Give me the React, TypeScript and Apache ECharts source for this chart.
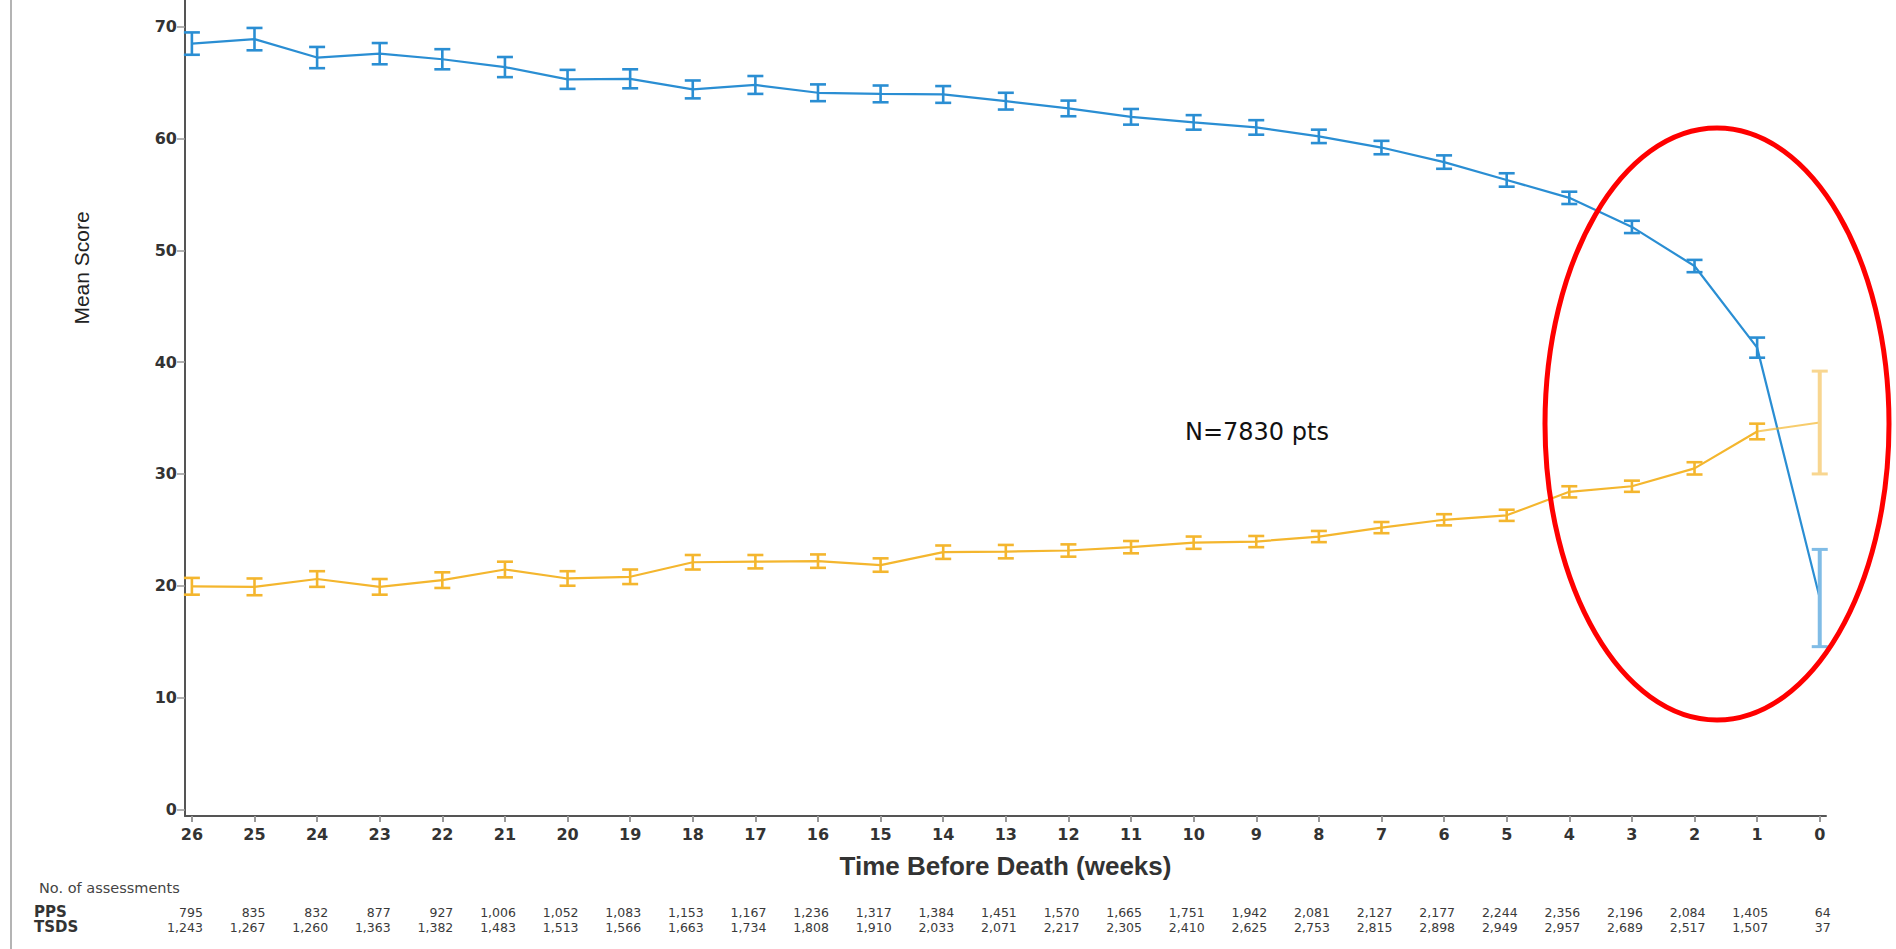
import React, { useEffect, useRef } from "react";
import * as echarts from "echarts";

// ---- data ----
const weeks = [26, 25, 24, 23, 22, 21, 20, 19, 18, 17, 16, 15, 14, 13, 12, 11, 10, 9, 8, 7, 6, 5, 4, 3, 2, 1, 0];

const ppsMean = [68.5, 68.9, 67.25, 67.6, 67.1, 66.4, 65.3, 65.35, 64.4, 64.8, 64.1, 64.0, 63.95, 63.35, 62.7, 61.95, 61.45, 61.0, 60.2, 59.2, 57.9, 56.3, 54.7, 52.1, 48.6, 41.3, 18.9];
const ppsErr = [1.0, 1.0, 0.95, 0.95, 0.9, 0.9, 0.85, 0.85, 0.8, 0.8, 0.75, 0.75, 0.75, 0.75, 0.7, 0.7, 0.65, 0.65, 0.6, 0.6, 0.6, 0.6, 0.55, 0.55, 0.55, 0.9, 4.35];

const tsdsMean = [19.95, 19.9, 20.6, 19.9, 20.5, 21.45, 20.65, 20.8, 22.1, 22.15, 22.2, 21.85, 23.0, 23.05, 23.15, 23.45, 23.85, 23.95, 24.4, 25.2, 25.9, 26.3, 28.4, 28.9, 30.5, 33.8, 34.6];
const tsdsErr = [0.75, 0.75, 0.7, 0.7, 0.7, 0.7, 0.65, 0.65, 0.65, 0.6, 0.6, 0.6, 0.6, 0.6, 0.55, 0.55, 0.55, 0.5, 0.5, 0.5, 0.5, 0.5, 0.5, 0.5, 0.55, 0.7, 4.6];

const ppsCounts = [795, 835, 832, 877, 927, 1006, 1052, 1083, 1153, 1167, 1236, 1317, 1384, 1451, 1570, 1665, 1751, 1942, 2081, 2127, 2177, 2244, 2356, 2196, 2084, 1405, 64];
const tsdsCounts = [1243, 1267, 1260, 1363, 1382, 1483, 1513, 1566, 1663, 1734, 1808, 1910, 2033, 2071, 2217, 2305, 2410, 2625, 2753, 2815, 2898, 2949, 2957, 2689, 2517, 1507, 37];

const yTicks = [0, 10, 20, 30, 40, 50, 60, 70];

const BLUE = "#2a8ed3";
const BLUE_LIGHT = "#80bce6";
const YELLOW = "#f4b62e";
const YELLOW_LIGHT = "#f8d690";

export default function App() {
  const ref = useRef<HTMLDivElement>(null);

  useEffect(() => {
    if (!ref.current) return;
    const chart = echarts.init(ref.current, null, { renderer: "svg" });

    const xMin = -0.1;
    const xMax = 26.11;
    const lastIdx = weeks.length - 1;

    const errData = (means: number[], errs: number[]) =>
      weeks.map((w, i) => [w, means[i] - errs[i], means[i] + errs[i], i === lastIdx ? 1 : 0]);

    const makeErrSeries = (name: string, means: number[], errs: number[], color: string, light: string) => ({
      name,
      type: "custom",
      xAxisIndex: 0,
      yAxisIndex: 0,
      z: 3,
      data: errData(means, errs),
      renderItem: (params: any, api: any) => {
        const x = api.value(0);
        const lo = api.coord([x, api.value(1)]);
        const hi = api.coord([x, api.value(2)]);
        const last = api.value(3) === 1;
        const half = 8;
        const st = { stroke: last ? light : color, lineWidth: last ? 4 : 2.6, fill: "none" };
        const cap = { ...st, lineWidth: last ? 3 : 2.6 };
        return {
          type: "group",
          children: [
            { type: "line", shape: { x1: lo[0], y1: lo[1], x2: hi[0], y2: hi[1] }, style: st },
            { type: "line", shape: { x1: hi[0] - half, y1: hi[1], x2: hi[0] + half, y2: hi[1] }, style: cap },
            { type: "line", shape: { x1: lo[0] - half, y1: lo[1], x2: lo[0] + half, y2: lo[1] }, style: cap },
          ],
        };
      },
    });

    const staticGraphics: any[] = [
      { type: "rect", left: 10, top: 0, shape: { width: 2, height: 949 }, style: { fill: "#b4b4b4" } },
      {
        type: "text",
        x: 81,
        y: 268,
        rotation: Math.PI / 2,
        style: {
          text: "Mean Score",
          fontFamily: "Liberation Sans Narrow, Liberation Sans",
          fontSize: 21,
          fill: "#222",
          align: "center",
          verticalAlign: "middle",
        },
      },
      {
        type: "text",
        x: 1185,
        y: 432,
        style: {
          text: "N=7830 pts",
          fontFamily: "DejaVu Sans",
          fontSize: 24,
          fill: "#111",
          align: "left",
          verticalAlign: "middle",
        },
      },
      {
        type: "ellipse",
        shape: { cx: 1717, cy: 424, rx: 172, ry: 296 },
        style: { stroke: "#ff0000", lineWidth: 5, fill: "none" },
        z: 10,
      },
      {
        type: "text",
        x: 39,
        y: 888,
        style: { text: "No. of assessments", fontFamily: "DejaVu Sans", fontSize: 14.5, fill: "#444", verticalAlign: "middle" },
      },
      {
        type: "text",
        x: 34,
        y: 912,
        style: { text: "PPS", fontFamily: "DejaVu Sans", fontWeight: "bold", fontSize: 15, fill: "#333", verticalAlign: "middle" },
      },
      {
        type: "text",
        x: 34,
        y: 927,
        style: { text: "TSDS", fontFamily: "DejaVu Sans", fontWeight: "bold", fontSize: 15, fill: "#333", verticalAlign: "middle" },
      },
    ];

    chart.setOption({
      animation: false,
      backgroundColor: "#ffffff",
      grid: { left: 185, right: 70, top: 0, bottom: 133, containLabel: false },
      xAxis: {
        type: "value",
        inverse: true,
        min: xMin,
        max: xMax,
        name: "Time Before Death (weeks)",
        nameLocation: "middle",
        nameGap: 37,
        nameTextStyle: { fontFamily: "Liberation Sans", fontWeight: "bold", fontSize: 26, color: "#333" },
        axisLine: { onZero: false, lineStyle: { color: "#555", width: 2 } },
        axisTick: { customValues: weeks, length: 6, lineStyle: { color: "#999", width: 2 } },
        axisLabel: {
          customValues: weeks,
          margin: 10,
          fontFamily: "DejaVu Sans",
          fontWeight: "bold",
          fontSize: 16,
          color: "#333",
        },
        splitLine: { show: false },
      },
      yAxis: {
        type: "value",
        min: -0.6,
        max: 72.4,
        axisLine: { show: true, onZero: false, lineStyle: { color: "#555", width: 2 } },
        axisTick: { show: true, customValues: yTicks, length: 8, lineStyle: { color: "#999", width: 1.5 } },
        axisLabel: {
          customValues: yTicks,
          margin: 8,
          fontFamily: "DejaVu Sans",
          fontWeight: "bold",
          fontSize: 16,
          color: "#333",
        },
        splitLine: { show: false },
      },
      series: [
        {
          name: "PPS",
          type: "line",
          showSymbol: false,
          z: 2,
          lineStyle: { color: BLUE, width: 2.2 },
          data: weeks.map((w, i) => [w, ppsMean[i]]),
        },
        {
          name: "TSDS",
          type: "line",
          showSymbol: false,
          z: 2,
          lineStyle: { color: YELLOW, width: 2.2 },
          data: weeks.slice(0, lastIdx).map((w, i) => [w, tsdsMean[i]]),
        },
        {
          name: "TSDS tail",
          type: "line",
          showSymbol: false,
          z: 2,
          lineStyle: { color: YELLOW, width: 2.2, opacity: 0.7 },
          data: weeks.slice(lastIdx - 1).map((w, i) => [w, tsdsMean[lastIdx - 1 + i]]),
        },
        makeErrSeries("PPS err", ppsMean, ppsErr, BLUE, BLUE_LIGHT),
        makeErrSeries("TSDS err", tsdsMean, tsdsErr, YELLOW, YELLOW_LIGHT),
      ],
      graphic: staticGraphics,
    });

    // count table placed under each week through the x scale
    const countText = (w: number, value: number, y: number) => {
      const px = chart.convertToPixel({ xAxisIndex: 0 }, w) as number;
      return {
        type: "text",
        x: px + 11,
        y,
        style: {
          text: value.toLocaleString("en-US"),
          fontFamily: "DejaVu Sans",
          fontSize: 12.5,
          fill: "#3a3a3a",
          align: "right",
          verticalAlign: "middle",
        },
      };
    };
    const countGraphics = [
      ...weeks.map((w, i) => countText(w, ppsCounts[i], 912)),
      ...weeks.map((w, i) => countText(w, tsdsCounts[i], 927)),
    ];
    chart.setOption({ graphic: [...staticGraphics, ...countGraphics] });

    return () => chart.dispose();
  }, []);

  return <div ref={ref} style={{ position: "fixed", left: 0, top: 0, width: 1896, height: 949 }} />;
}
